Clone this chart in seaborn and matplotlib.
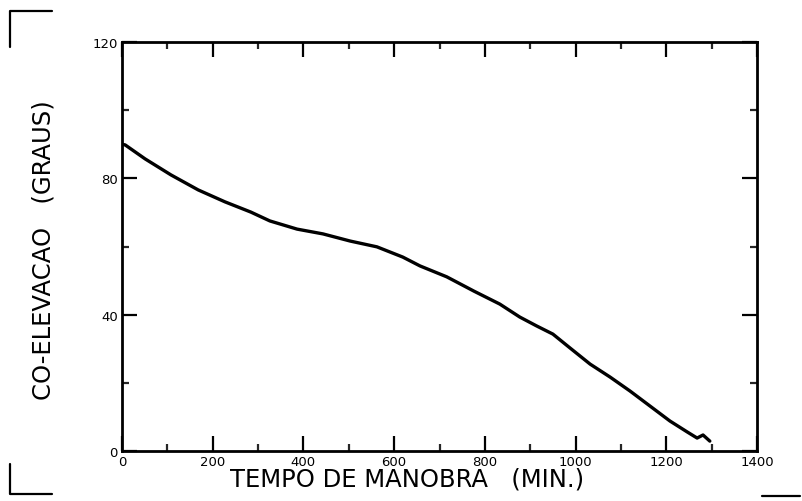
import matplotlib
matplotlib.use("Agg")
import matplotlib.pyplot as plt
import seaborn as sns
import pandas as pd
from matplotlib.ticker import MultipleLocator
from matplotlib.lines import Line2D

# Data
tempo = [0, 7, 51, 108, 168, 227, 284, 326, 386, 443, 503, 562, 619, 657,
         716, 776, 833, 877, 914, 950, 988, 1032, 1076, 1120, 1164, 1208,
         1246, 1268, 1281, 1296]
coelev = [90.0, 89.8, 85.7, 81.0, 76.6, 73.1, 70.1, 67.5, 65.1, 63.7, 61.6,
          59.9, 56.9, 54.3, 51.1, 46.9, 43.1, 39.3, 36.7, 34.3, 30.2, 25.5,
          21.7, 17.6, 13.2, 8.8, 5.6, 3.8, 4.7, 2.9]
x_ticks = [0, 200, 400, 600, 800, 1000, 1200, 1400]
x_tick_labels = ["0", "200", "400", "600", "800", "1000", "1200", "1400"]
y_ticks = [0, 40, 80, 120]
y_tick_labels = ["0", "40", "80", "120"]
x_label = "TEMPO DE MANOBRA   (MIN.)"
y_label = "CO-ELEVACAO   (GRAUS)"

sns.set_style("ticks")
plt.rcParams["font.family"] = ["DejaVu Sans"]

fig = plt.figure(figsize=(8.02, 5.02), dpi=100)
ax = fig.add_axes([122/802, (502-452)/502, (757-122)/802, (452-43)/502])

df = pd.DataFrame({"tempo": tempo, "coelev": coelev})
sns.lineplot(data=df, x="tempo", y="coelev", ax=ax, color="black",
             linewidth=2.4, sort=False)

ax.set_xlim(0, 1400)
ax.set_ylim(0, 120)
ax.set_xticks(x_ticks)
ax.set_xticklabels(x_tick_labels, fontsize=9.5)
ax.set_yticks(y_ticks)
ax.set_yticklabels(y_tick_labels, fontsize=9.5)
ax.xaxis.set_minor_locator(MultipleLocator(100))
ax.yaxis.set_minor_locator(MultipleLocator(20))
ax.tick_params(which="major", direction="in", length=11, width=1.6,
               top=True, right=True, pad=3, colors="black")
ax.tick_params(which="minor", direction="in", length=5, width=1.6,
               top=True, right=True)
for s in ax.spines.values():
    s.set_visible(True)
    s.set_linewidth(2.0)
    s.set_color("black")

ax.set_xlabel("")
ax.set_ylabel("")
fig.text(407/802, 1-480/502, x_label, ha="center", va="center",
         fontsize=17.5, color="black")
fig.text(44/802, 1-250/502, y_label, ha="center", va="center",
         rotation=90, fontsize=17.5, color="black")

# registration marks of the scanned page
fig.add_artist(Line2D([10/802, 10/802, 52/802], [1-48/502, 1-12/502, 1-12/502],
                      transform=fig.transFigure, color="black", lw=1.6))
fig.add_artist(Line2D([10/802, 10/802, 52/802], [1-465/502, 1-495/502, 1-495/502],
                      transform=fig.transFigure, color="black", lw=1.6))
fig.add_artist(Line2D([762/802, 800/802], [1-497/502, 1-497/502],
                      transform=fig.transFigure, color="black", lw=1.6))

fig.savefig("out.png", dpi=100)
